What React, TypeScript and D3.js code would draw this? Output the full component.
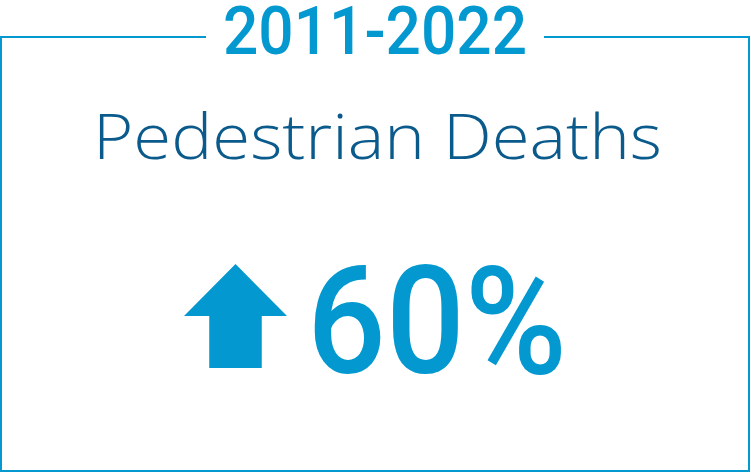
import React from "react";
import * as d3 from "d3";

const periodLabels: string[] = ["2011-2022"];
const metricLabels: string[] = ["Pedestrian Deaths"];
const changeValues: number[] = [60];
const changeDirections: string[] = ["up"];

const W = 751;
const H = 473;
const BLUE = "#0399d0";
const DARK = "#0a5a8c";

export default function App() {
  const fmt = d3.format("d");
  const value = changeValues[0];
  const valueLabel = `${fmt(value)}%`;
  // arrow geometry
  const ax = d3.scaleLinear().domain([0, 1]).range([184, 287]);
  const ay = d3.scaleLinear().domain([0, 1]).range([264, 368]);
  const up = changeDirections[0] === "up";
  const pts: [number, number][] = [
    [0.5, 0],
    [1, 0.5],
    [0.755, 0.5],
    [0.755, 1],
    [0.245, 1],
    [0.245, 0.5],
    [0, 0.5],
  ].map(([x, y]) => [ax(x), ay(up ? y : 1 - y)] as [number, number]);
  const arrowPath = d3.line()(pts) + "Z";

  const gapL = 206;
  const gapR = 544;
  const top = 37;
  const border = d3.path();
  border.moveTo(gapL, top);
  border.lineTo(1, top);
  border.lineTo(1, 471);
  border.lineTo(749, 471);
  border.lineTo(749, top);
  border.lineTo(gapR, top);

  return (
    <svg
      width={W}
      height={H}
      style={{ position: "absolute", left: 0, top: 0, background: "#fff" }}
    >
      <path d={border.toString()} fill="none" stroke={BLUE} strokeWidth={2} />
      <text
        x={223}
        y={54}
        fill={BLUE}
        fontFamily="Roboto, sans-serif"
        fontWeight={500}
        fontSize={66}
        textLength={304}
        lengthAdjust="spacingAndGlyphs"
      >
        {periodLabels[0]}
      </text>
      <text
        x={93}
        y={159}
        fill={DARK}
        fontFamily="'Open Sans', sans-serif"
        fontWeight={300}
        fontSize={62}
        textLength={569}
        lengthAdjust="spacingAndGlyphs"
      >
        {metricLabels[0]}
      </text>
      <path d={arrowPath} fill={BLUE} />
      <text
        x={307}
        y={373}
        fill={BLUE}
        fontFamily="Roboto, sans-serif"
        fontWeight={500}
        fontSize={150}
        textLength={260}
        lengthAdjust="spacingAndGlyphs"
      >
        {valueLabel}
      </text>
    </svg>
  );
}
